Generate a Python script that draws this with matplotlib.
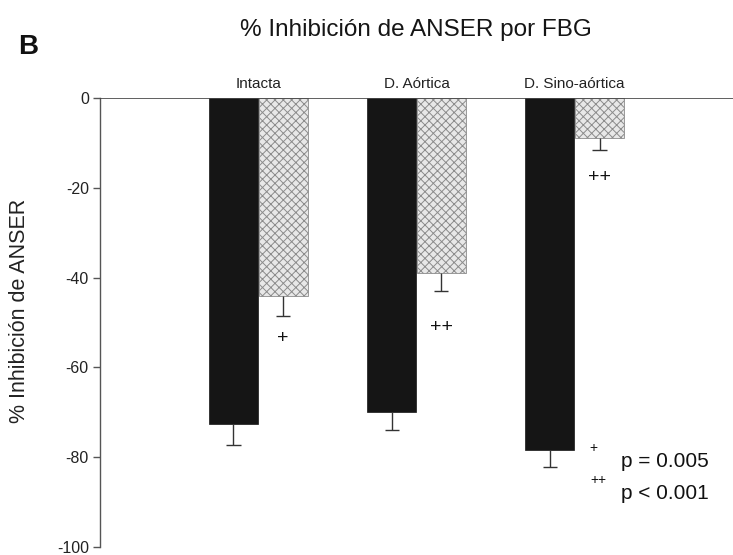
import numpy as np
import matplotlib
matplotlib.use("Agg")
import matplotlib.pyplot as plt

plt.rcParams["font.family"] = ["Liberation Sans", "DejaVu Sans"]
plt.rcParams["hatch.linewidth"] = 0.7

groups = ["Intacta", "D. Aórtica", "D. Sino-aórtica"]
control = [-72.5, -70.0, -78.5]
control_err = [4.8, 4.0, 3.6]
fbg = [-44.0, -39.0, -9.0]
fbg_err = [4.5, 4.0, 2.5]
fbg_marks = ["+", "++", "++"]
mark_y = [-53.5, -51.0, -17.6]
yticks = [0, -20, -40, -60, -80, -100]

fig = plt.figure(figsize=(7.33, 5.55), dpi=100)
ax = fig.add_axes([0.1364, 0.0144, 0.8636, 0.809])

x = np.arange(len(groups))
off = 0.157
w = 0.31

ax.bar(x - off, control, width=w, color="#151515", edgecolor="#151515", linewidth=0.5, zorder=2)
ax.bar(x + off, fbg, width=w, color="#e8e8e8", edgecolor="#8c8c8c", hatch="xxxx",
       linewidth=0.6, zorder=2)

# downward-only error bars with caps
cap = 0.045
for xs, vals, errs in [(x - off, control, control_err), (x + off, fbg, fbg_err)]:
    for xi, v, e in zip(xs, vals, errs):
        ax.vlines(xi, v, v - e, color="#333333", linewidth=1.0, zorder=3)
        ax.hlines(v - e, xi - cap, xi + cap, color="#333333", linewidth=1.0, zorder=3)

# significance markers under the FBG bars
for xi, m, yy in zip(x + off, fbg_marks, mark_y):
    ax.text(xi, yy, m, ha="center", va="center", fontsize=14, color="#111111")

# group labels above the zero line
for xi, g in zip(x, groups):
    ax.text(xi, 1.6, g, ha="center", va="bottom", fontsize=11, color="#222222")

# p-value key
ax.text(2.12, -78.0, "+", ha="center", va="center", fontsize=10, color="#111111")
ax.text(2.29, -81.0, "p = 0.005", ha="left", va="center", fontsize=15, color="#111111")
ax.text(2.15, -85.0, "++", ha="center", va="center", fontsize=10, color="#111111")
ax.text(2.29, -88.0, "p < 0.001", ha="left", va="center", fontsize=15, color="#111111")

ax.set_xlim(-1.0, 3.0)
ax.set_ylim(-100, 0)
ax.set_yticks(yticks)
ax.set_yticklabels([str(t) for t in yticks], fontsize=11.5, color="#222222")
ax.set_xticks([])
ax.axhline(0, color="#444444", linewidth=1.2, zorder=4)
for s in ["top", "right", "bottom"]:
    ax.spines[s].set_visible(False)
ax.spines["left"].set_color("#555555")
ax.spines["left"].set_linewidth(1.0)
ax.tick_params(axis="y", length=5, width=1.0, color="#555555", pad=3)
ax.set_ylabel("% Inhibición de ANSER", fontsize=15.5, color="#222222")
ax.yaxis.set_label_coords(-0.11, 0.525)

fig.text(0.5675, 0.946, "% Inhibición de ANSER por FBG", ha="center", va="center",
         fontsize=17.5, color="#151515")
fig.text(0.038, 0.915, "B", ha="center", va="center", fontsize=20, fontweight="bold",
         color="#111111")

fig.savefig("out.png", dpi=100)
